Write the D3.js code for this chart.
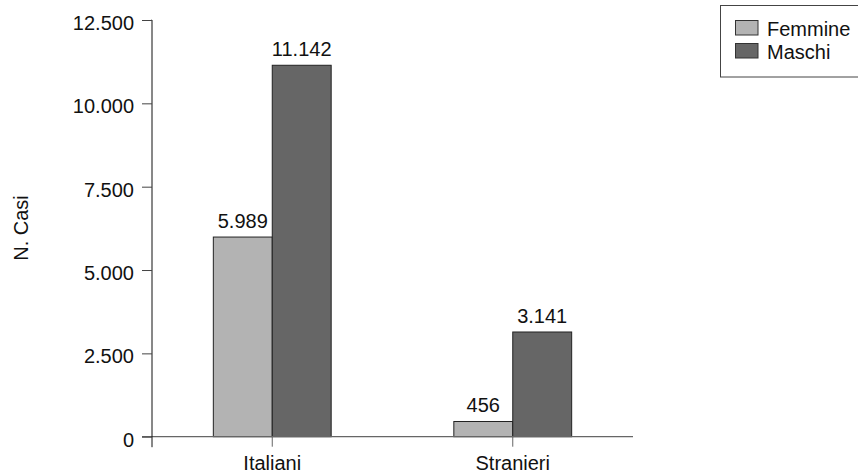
<!DOCTYPE html>
<html><head><meta charset="utf-8">
<script src="https://cdn.jsdelivr.net/npm/d3@7"></script>
<style>body{margin:0;background:#fff}svg{display:block;font-family:"Liberation Sans",Arial,sans-serif}</style>
</head><body><svg id="c" width="858" height="476"></svg>
<script>
const categories = ["Italiani", "Stranieri"];
const seriesNames = ["Femmine", "Maschi"];
const femmine = [5989, 456];
const maschi = [11142, 3141];
const yTicks = [0, 2500, 5000, 7500, 10000, 12500];
const colors = ["#b3b3b3", "#666666"];

const svg = d3.select("#c");
const FONT = '"Liberation Sans",Arial,sans-serif';
const fmt = v => d3.format(",")(v).replace(/,/g, ".");
const y = d3.scaleLinear().domain([0, 12500]).range([436.7, 20]);
const x0 = d3.scaleBand().domain(categories).range([152, 633]).paddingInner(0.51).paddingOuter(0.255);
const x1 = d3.scaleBand().domain(seriesNames).range([0, x0.bandwidth()]);
const values = [femmine, maschi];

// bars
categories.forEach((c, i) => {
  seriesNames.forEach((s, j) => {
    const v = values[j][i];
    svg.append("rect")
      .attr("x", x0(c) + x1(s)).attr("y", y(v))
      .attr("width", x1.bandwidth()).attr("height", y(0) - y(v))
      .attr("fill", colors[j]).attr("stroke", "#222").attr("stroke-width", 1);
    svg.append("text")
      .attr("x", x0(c) + x1(s) + x1.bandwidth() / 2).attr("y", y(v) - 9)
      .attr("text-anchor", "middle").attr("font-size", 20).attr("fill", "#111")
      .text(fmt(v));
  });
});

// x axis line
svg.append("line").attr("x1", 142).attr("x2", 633).attr("y1", y(0)).attr("y2", y(0))
  .attr("stroke", "#666").attr("stroke-width", 1.3);
// category ticks and labels
categories.forEach(c => {
  const cx = x0(c) + x0.bandwidth() / 2;
  svg.append("line").attr("x1", cx).attr("x2", cx).attr("y1", y(0)).attr("y2", y(0) + 10)
    .attr("stroke", "#666").attr("stroke-width", 1);
  svg.append("text").attr("x", cx).attr("y", 469.5).attr("text-anchor", "middle")
    .attr("font-size", 20).attr("fill", "#111").text(c);
});

// y axis
const yAxis = d3.axisLeft(y).tickValues(yTicks).tickSize(10).tickPadding(8).tickFormat(fmt);
const gy = svg.append("g").attr("transform", "translate(152,0)").call(yAxis);
gy.select(".domain").attr("d", `M-0.5,${y(12500)}H0V${y(0) + 10.5}`).attr("stroke", "#111");
gy.selectAll(".tick line").attr("stroke", "#444");
gy.selectAll(".tick text").attr("font-size", 20).attr("fill", "#111").attr("dy", "0.47em")
  .attr("font-family", FONT);
gy.select(".tick:first-of-type line").attr("x1", 0);

// y label
svg.append("text").attr("transform", "translate(28,228) rotate(-90)")
  .attr("text-anchor", "middle").attr("font-size", 20).attr("fill", "#111").text("N. Casi");

// legend
const lg = svg.append("g");
lg.append("rect").attr("x", 720.5).attr("y", 5.5).attr("width", 150).attr("height", 71.5)
  .attr("fill", "#fff").attr("stroke", "#444").attr("stroke-width", 1);
seriesNames.forEach((s, j) => {
  lg.append("rect").attr("x", 735.5).attr("y", 20.5 + j * 23).attr("width", 22.5).attr("height", 14.5)
    .attr("fill", colors[j]).attr("stroke", "#333");
  lg.append("text").attr("x", 767).attr("y", 35.5 + j * 23).attr("font-size", 20).attr("fill", "#111").text(s);
});
</script></body></html>
